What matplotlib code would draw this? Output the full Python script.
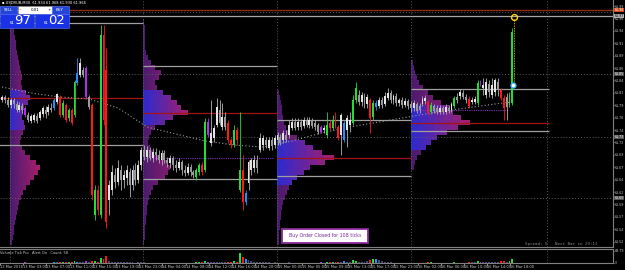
import numpy as np
import matplotlib
matplotlib.use("Agg")
import matplotlib.pyplot as plt
from matplotlib.colors import to_rgb
from matplotlib.patches import Rectangle

# ---- candle data (M30 bars, 13-16 Mar) ----
opens = [
    61.800, 61.806, 61.800, 61.790, 61.800, 61.792, 61.780, 61.788, 61.784, 61.770,
    61.758, 61.760, 61.768, 61.764, 61.772, 61.780, 61.776, 61.784, 61.784, 61.796,
    61.806, 61.770, 61.790, 61.764, 61.780, 61.770, 61.834, 61.850, 61.860, 61.864,
    61.806, 61.790, 61.570, 61.620, 61.570, 61.930, 61.860, 61.600, 61.620, 61.650,
    61.636, 61.660, 61.640, 61.644, 61.656, 61.630, 61.660, 61.640, 61.670, 61.700,
    61.686, 61.700, 61.684, 61.696, 61.690, 61.680, 61.694, 61.680, 61.674, 61.684,
    61.670, 61.664, 61.676, 61.660, 61.654, 61.666, 61.656, 61.646, 61.656, 61.670,
    61.660, 61.756, 61.714, 61.724, 61.750, 61.780, 61.746, 61.766, 61.754, 61.720,
    61.710, 61.740, 61.620, 61.660, 61.596, 61.634, 61.660, 61.664, 61.680, 61.700,
    61.710, 61.720, 61.704, 61.720, 61.710, 61.720, 61.726, 61.720, 61.730, 61.730,
    61.744, 61.756, 61.746, 61.756, 61.748, 61.760, 61.750, 61.760, 61.754, 61.750,
    61.746, 61.740, 61.730, 61.754, 61.744, 61.760, 61.746, 61.730, 61.754, 61.740,
    61.750, 61.754, 61.800, 61.810, 61.796, 61.808, 61.792, 61.800, 61.766, 61.794,
    61.788, 61.800, 61.792, 61.804, 61.814, 61.800, 61.808, 61.794, 61.800, 61.790,
    61.798, 61.792, 61.784, 61.792, 61.788, 61.792, 61.798, 61.796, 61.776, 61.788,
    61.784, 61.776, 61.784, 61.776, 61.784, 61.780, 61.788, 61.806, 61.808, 61.814,
    61.806, 61.802, 61.796, 61.796, 61.794, 61.834, 61.824, 61.810, 61.832, 61.810,
    61.816, 61.836, 61.820, 61.804, 61.806, 61.790, 61.794]
highs = [
    61.810, 61.810, 61.806, 61.804, 61.804, 61.798, 61.796, 61.794, 61.788, 61.776,
    61.772, 61.774, 61.774, 61.780, 61.788, 61.788, 61.792, 61.794, 61.804, 61.814,
    61.810, 61.800, 61.794, 61.784, 61.784, 61.840, 61.884, 61.884, 61.866, 61.868,
    61.810, 61.794, 61.630, 61.630, 61.950, 61.950, 61.904, 61.640, 61.670, 61.664,
    61.680, 61.670, 61.660, 61.670, 61.664, 61.670, 61.674, 61.680, 61.706, 61.710,
    61.708, 61.706, 61.704, 61.704, 61.700, 61.700, 61.700, 61.686, 61.690, 61.688,
    61.680, 61.684, 61.680, 61.670, 61.674, 61.672, 61.660, 61.664, 61.674, 61.676,
    61.764, 61.764, 61.800, 61.750, 61.804, 61.800, 61.794, 61.776, 61.760, 61.724,
    61.750, 61.746, 61.776, 61.690, 61.620, 61.680, 61.684, 61.690, 61.690, 61.734,
    61.730, 61.726, 61.726, 61.726, 61.730, 61.736, 61.732, 61.740, 61.740, 61.760,
    61.764, 61.764, 61.764, 61.762, 61.766, 61.766, 61.766, 61.764, 61.760, 61.754,
    61.750, 61.750, 61.776, 61.760, 61.770, 61.776, 61.750, 61.774, 61.760, 61.770,
    61.776, 61.810, 61.836, 61.820, 61.816, 61.814, 61.812, 61.804, 61.800, 61.800,
    61.806, 61.806, 61.816, 61.824, 61.820, 61.812, 61.814, 61.804, 61.806, 61.804,
    61.802, 61.798, 61.800, 61.796, 61.794, 61.808, 61.810, 61.800, 61.796, 61.792,
    61.790, 61.790, 61.788, 61.792, 61.790, 61.796, 61.808, 61.814, 61.822, 61.820,
    61.812, 61.808, 61.806, 61.808, 61.840, 61.840, 61.844, 61.844, 61.840, 61.844,
    61.844, 61.844, 61.824, 61.810, 61.814, 61.816, 61.944]
lows = [
    61.796, 61.794, 61.786, 61.784, 61.784, 61.776, 61.776, 61.774, 61.766, 61.756,
    61.754, 61.756, 61.754, 61.760, 61.766, 61.764, 61.770, 61.776, 61.780, 61.792,
    61.766, 61.766, 61.756, 61.758, 61.750, 61.766, 61.830, 61.846, 61.846, 61.802,
    61.782, 61.600, 61.560, 61.570, 61.564, 61.750, 61.544, 61.570, 61.610, 61.624,
    61.630, 61.620, 61.624, 61.630, 61.606, 61.620, 61.630, 61.634, 61.660, 61.680,
    61.676, 61.680, 61.676, 61.680, 61.674, 61.670, 61.674, 61.666, 61.664, 61.660,
    61.656, 61.660, 61.650, 61.648, 61.650, 61.648, 61.644, 61.640, 61.650, 61.650,
    61.656, 61.726, 61.708, 61.716, 61.746, 61.750, 61.740, 61.740, 61.714, 61.704,
    61.706, 61.710, 61.616, 61.580, 61.590, 61.620, 61.650, 61.656, 61.654, 61.696,
    61.700, 61.704, 61.700, 61.700, 61.704, 61.710, 61.710, 61.714, 61.716, 61.724,
    61.740, 61.740, 61.740, 61.740, 61.744, 61.746, 61.744, 61.744, 61.740, 61.732,
    61.734, 61.734, 61.724, 61.740, 61.740, 61.744, 61.720, 61.690, 61.716, 61.706,
    61.736, 61.750, 61.794, 61.790, 61.788, 61.784, 61.784, 61.734, 61.760, 61.780,
    61.784, 61.784, 61.788, 61.800, 61.794, 61.792, 61.788, 61.788, 61.784, 61.786,
    61.782, 61.776, 61.778, 61.774, 61.774, 61.788, 61.792, 61.770, 61.772, 61.774,
    61.772, 61.772, 61.772, 61.772, 61.774, 61.776, 61.784, 61.794, 61.802, 61.802,
    61.794, 61.784, 61.792, 61.792, 61.790, 61.828, 61.810, 61.804, 61.806, 61.804,
    61.808, 61.808, 61.800, 61.760, 61.760, 61.786, 61.790]
closes = [
    61.806, 61.800, 61.790, 61.800, 61.792, 61.780, 61.790, 61.780, 61.770, 61.760,
    61.768, 61.770, 61.758, 61.776, 61.784, 61.772, 61.786, 61.780, 61.800, 61.812,
    61.770, 61.794, 61.760, 61.780, 61.754, 61.836, 61.854, 61.874, 61.850, 61.806,
    61.786, 61.610, 61.620, 61.580, 61.930, 61.760, 61.556, 61.630, 61.656, 61.636,
    61.664, 61.640, 61.650, 61.660, 61.630, 61.660, 61.640, 61.670, 61.700, 61.686,
    61.700, 61.684, 61.696, 61.690, 61.680, 61.694, 61.680, 61.674, 61.684, 61.670,
    61.664, 61.676, 61.660, 61.654, 61.666, 61.656, 61.650, 61.660, 61.670, 61.656,
    61.756, 61.730, 61.734, 61.744, 61.786, 61.754, 61.766, 61.746, 61.720, 61.710,
    61.740, 61.720, 61.660, 61.596, 61.614, 61.676, 61.680, 61.680, 61.664, 61.724,
    61.724, 61.710, 61.720, 61.708, 61.724, 61.730, 61.714, 61.734, 61.720, 61.750,
    61.756, 61.744, 61.756, 61.746, 61.760, 61.750, 61.760, 61.748, 61.746, 61.736,
    61.736, 61.744, 61.750, 61.744, 61.760, 61.746, 61.724, 61.770, 61.720, 61.764,
    61.760, 61.800, 61.824, 61.796, 61.810, 61.792, 61.806, 61.764, 61.794, 61.786,
    61.800, 61.790, 61.808, 61.814, 61.800, 61.808, 61.794, 61.800, 61.790, 61.798,
    61.788, 61.784, 61.794, 61.778, 61.780, 61.802, 61.804, 61.774, 61.790, 61.778,
    61.776, 61.784, 61.776, 61.786, 61.778, 61.792, 61.804, 61.800, 61.816, 61.806,
    61.800, 61.788, 61.800, 61.802, 61.834, 61.832, 61.830, 61.836, 61.816, 61.830,
    61.840, 61.820, 61.804, 61.784, 61.786, 61.810, 61.936]
# volume-analysis colour of each bar ('.' = normal)
bar_codes = ("........p." "........b." "rgrgrgb..p" ".rgrgrr..." ".........."
             ".........." ".......ggr" "gp......rr" "grgrb....." ".........."
             ".........." "p.grgrr.b." ".gg....rgb" ".........." ".......rg."
             "......g..." ".r..gp...." "..rr.gg")
tick_volume = [
    2, 1, 1, 2, 1, 1, 2, 1, 3, 2,  1, 1, 2, 1, 1, 2, 1, 2, 4, 3,
    6, 5, 6, 5, 7, 10, 8, 4, 3, 9,  4, 14, 10, 8, 30, 24, 40, 9, 7, 5,
    4, 3, 3, 3, 4, 3, 2, 4, 5, 3,  2, 2, 2, 1, 2, 2, 1, 1, 2, 1,
    1, 1, 2, 1, 1, 2, 1, 4, 5, 5,  14, 6, 6, 5, 7, 4, 4, 3, 8, 6,
    9, 7, 55, 35, 25, 15, 10, 5, 4, 5,  4, 3, 3, 2, 3, 2, 2, 2, 2, 3,
    2, 2, 1, 2, 1, 1, 2, 1, 2, 2,  4, 2, 8, 6, 7, 6, 8, 5, 12, 6,
    5, 16, 14, 6, 5, 8, 10, 20, 22, 24,  15, 10, 8, 3, 3, 2, 2, 2, 1, 2,
    1, 1, 2, 1, 1, 2, 2, 5, 4, 2,  2, 1, 2, 1, 2, 1, 6, 2, 2, 2,
    2, 7, 3, 3, 14, 6, 4, 4, 3, 4,  3, 3, 10, 12, 5, 14, 22]

ma_bars = [0, 10, 20, 30, 40, 50, 60, 70, 80, 90, 100, 110, 120, 130, 140, 150, 160, 170, 176]
ma_values = [61.826, 61.814, 61.806, 61.802, 61.784, 61.746, 61.732, 61.718, 61.710, 61.706,
             61.718, 61.734, 61.746, 61.756, 61.766, 61.776, 61.784, 61.792, 61.796]

day_starts = [2.75, 48.6, 94.8, 141.0, 188.0]

# market profiles, one per day: top price, widths per 0.01 bin, value area
prof_tops = [61.960, 61.960, 61.820, 61.880]
prof_widths = [
    [3, 4, 4, 5, 6, 6, 7, 8, 9, 10, 11, 12, 11, 12, 16, 20, 18, 14, 13, 12, 14, 15, 13,
     11, 10, 12, 15, 20, 26, 30, 28, 24, 20, 16, 13, 11, 9, 8, 7, 6, 5, 4, 4, 3, 2],
    [1, 2, 2, 2, 2, 2, 3, 5, 8, 12, 18, 16, 12, 14, 20, 28, 34, 38, 45, 30, 22, 12, 8, 6,
     5, 7, 10, 16, 24, 27, 25, 22, 15, 10, 8, 6, 5, 4, 4, 3, 3, 2, 2, 2, 1],
    [2, 3, 4, 5, 5, 6, 7, 9, 13, 20, 28, 36, 45, 57, 48, 33, 27, 20, 15, 12, 10, 8, 6,
     5, 4, 4, 3, 3, 2, 2, 2],
    [2, 3, 4, 6, 8, 12, 17, 22, 30, 38, 42, 50, 59, 47, 36, 26, 20, 15, 10, 6, 4, 3]]
prof_va = [(61.820, 61.740), (61.820, 61.750), (61.720, 61.630), (61.790, 61.700)]

# daily levels: (from, to, price, kind)
levels = [
    (-1, 48.6, 61.954, "gray"), (-1, 48.6, 61.804, "red"), (-1, 48.6, 61.710, "gray"),
    (48.6, 94.8, 61.868, "gray"), (48.6, 94.8, 61.774, "red"), (48.6, 93.5, 61.684, "pdot"),
    (48.6, 94.8, 61.642, "gray"),
    (94.8, 141.0, 61.760, "gray"), (94.8, 141.0, 61.684, "red"), (94.8, 141.0, 61.648, "gray"),
    (141.0, 188.5, 61.822, "gray"), (141.0, 188.5, 61.754, "red"), (141.0, 188.5, 61.738, "gray"),
    (141.0, 175.0, 61.780, "pdot")]
week_red = 61.980
week_gray = 61.968
hlines_dotted = [61.976, 61.852, 61.726, 61.604]

entry_price, exit_price = 61.830, 61.966

time_labels = ["12 Mar 2018", "13 Mar 03:00", "13 Mar 07:00", "13 Mar 11:00", "13 Mar 15:00",
               "13 Mar 19:00", "13 Mar 23:00", "14 Mar 04:00", "14 Mar 08:00", "14 Mar 12:00",
               "14 Mar 16:00", "14 Mar 20:00", "15 Mar 00:00", "15 Mar 05:00", "15 Mar 09:00",
               "15 Mar 13:00", "15 Mar 17:00", "15 Mar 21:00", "16 Mar 02:00", "16 Mar 06:00",
               "16 Mar 10:00", "16 Mar 14:00", "16 Mar 18:00"]
time_label_bars = [-0.6] + [8 * k - 0.7 for k in range(1, 23)]

W, H = 625, 270
def fx(px): return px / W
def fy(py): return 1 - py / H

code_col = {"g": "#22dd33", "r": "#ff1818", "b": "#1e90ff", "p": "#b030e8"}
BG = "black"
small = 2.6
axfs = 2.35

fig = plt.figure(figsize=(W / 100, H / 100), dpi=100, facecolor=BG)
ax = fig.add_axes([0, fy(247), fx(613), 247 / H], facecolor=BG)
ax2 = fig.add_axes([0, fy(263), fx(613), 14 / H], facecolor=BG)
xlim = (-0.69, 210.69)

# --- profiles ---
def mix(a, b, t):
    a, b = np.array(to_rgb(a)), np.array(to_rgb(b))
    return tuple(a + (b - a) * min(max(t, 0), 1))

for start, top, widths, (vhi, vlo) in zip(day_starts, prof_tops, prof_widths, prof_va):
    maxw = max(widths)
    lefts, ws, ys, cols = [], [], [], []
    for j, w in enumerate(widths):
        p = top - 0.01 * j - 0.005
        cl = "#2a2ad0" if vlo <= p <= vhi else "#4a1a70"
        wb = w / 2.9
        n = 6
        for s in range(n):
            lefts.append(start + wb * s / n)
            ws.append(wb / n + 0.02)
            ys.append(p)
            cols.append(mix(cl, "#a81e6a", (s + 0.5) / n * w / maxw))
    ax.barh(ys, ws, height=0.0101, left=lefts, color=cols, linewidth=0, zorder=1)

# --- grid / separators ---
for d in day_starts:
    ax.axvline(d, color="#5c5c5c", lw=0.7, ls=(0, (1, 2)), zorder=1.5)
    ax2.axvline(d, color="#5c5c5c", lw=0.7, ls=(0, (1, 2)))
for p in hlines_dotted:
    ax.axhline(p, color="#5c5c5c", lw=0.7, ls=(0, (1, 2)), zorder=1.5)
ax.axhline(week_red, color="#8c2a14", lw=1.0, zorder=2)
ax.axhline(week_gray, color="#a8a8a8", lw=0.9, zorder=2)

lv_style = {"gray": dict(colors="#a0a0a0", lw=0.9),
            "red": dict(colors="#a01414", lw=0.9),
            "pdot": dict(colors="#8030b0", lw=0.8, linestyles=(0, (1, 1)))}
for x0, x1, p, kind in levels:
    ax.hlines(p, x0, x1, zorder=2, **lv_style[kind])

ax.plot(ma_bars, ma_values, color="#9a9a9a", lw=0.8, ls=(0, (1, 2)), zorder=2.5)

# --- candles ---
idx = np.arange(len(opens))
o, h, l, c = map(np.array, (opens, highs, lows, closes))
cols = []
for i in idx:
    code = bar_codes[i]
    if code in code_col:
        cols.append(code_col[code])
    else:
        cols.append("#e4e4e4" if c[i] >= o[i] else "#9a9a9a")
ax.vlines(idx, l, h, colors=[cc if bar_codes[i] in code_col else "#b0b0b0" for i, cc in enumerate(cols)],
          lw=0.6, zorder=3)
body = np.maximum(np.abs(c - o), 0.0016)
ax.bar(idx, body, bottom=np.minimum(o, c), width=0.66, color=cols, linewidth=0, zorder=3.2)

# --- order markers ---
ax.vlines(176.6, entry_price, exit_price - 0.004, colors="#ffd400", lw=0.6, ls=(0, (1, 1)), zorder=3)
ax.bar(176, body[-1], bottom=min(o[-1], c[-1]), width=0.66, color=cols[-1], linewidth=0, zorder=3.3)
ax.plot(176.6, exit_price, "o", ms=4.2, mfc="none", mec="#ffd400", mew=1.0, zorder=4)
ax.plot(176.3, entry_price, "o", ms=3.6, mfc="white", mec="#30b0ff", mew=0.9, zorder=4)

# --- price axis ---
ax.set_xlim(*xlim)
ax.set_ylim(61.506, 62.000)
ticks = 61.988 - 0.0248 * np.arange(20)
ax.yaxis.tick_right()
ax.set_yticks(ticks)
ax.set_yticklabels([f"{t:.2f}" for t in ticks])
ax.tick_params(axis="y", colors="#c8c8c8", labelsize=axfs, length=1.0, width=0.5, pad=0.4)
ax.tick_params(axis="x", bottom=False, labelbottom=False)
for s in ("top", "left"):
    ax.spines[s].set_visible(False)
for s in ("right", "bottom"):
    ax.spines[s].set_color("#808080")
    ax.spines[s].set_linewidth(0.8)

ytr = ax.get_yaxis_transform()
def price_tag(p, fc, tc):
    ax.text(1.0022, p, f"{p:.2f}", transform=ytr, fontsize=axfs, color=tc, va="center", ha="left",
            bbox=dict(boxstyle="square,pad=0.1", fc=fc, ec="none"), clip_on=False, zorder=6)
for p in hlines_dotted[1:]:
    price_tag(p, "#505050", "white")
price_tag(week_red, "#d04818", "white")
price_tag(week_gray, "#b0b0b0", "black")

# --- volume panel ---
vcols = [code_col.get(bar_codes[i], "#44447a") for i in idx]
ax2.bar(idx, tick_volume, width=0.66, color=vcols, linewidth=0)
ax2.set_xlim(*xlim)
ax2.set_ylim(0, 80)
ax2.yaxis.tick_right()
ax2.set_yticks([0, 69.79])
ax2.set_yticklabels(["0", "69.79"])
ax2.tick_params(axis="y", colors="#c8c8c8", labelsize=axfs, length=1.0, width=0.5, pad=0.4)
ax2.set_xticks(time_label_bars)
ax2.set_xticklabels(time_labels)
ax2.tick_params(axis="x", colors="#c8c8c8", labelsize=small, length=1.2, width=0.5, pad=0.5)
for t in ax2.get_xticklabels():
    t.set_ha("left")
ax2.spines["left"].set_visible(False)
for s in ("right", "bottom", "top"):
    ax2.spines[s].set_color("#808080")
    ax2.spines[s].set_linewidth(0.8)
fig.text(fx(0.5), fy(252.5), "Volume Tick Pro   Alert On   Count: 58", fontsize=small,
         color="#c8c8c8", va="center", ha="left")

# --- overlays: trade panel, notices ---
def rect(x, y, w, h, fc, ec="none", lw=0.0, z=10):
    fig.add_artist(Rectangle((fx(x), fy(y + h)), w / W, h / H, transform=fig.transFigure,
                             fc=fc, ec=ec, lw=lw, zorder=z))

fig.text(fx(2), fy(2.5), "\u25aa USDRUB,M30  61.934 61.968 61.930 61.966", fontsize=2.6,
         color="white", va="center", ha="left", zorder=11)
rect(0, 6, 17, 7.5, "#2446d8", "#6f86ff", 0.4)
rect(17.5, 6, 34, 7.5, "white", "#909090", 0.4)
rect(52, 6, 16.5, 7.5, "#2446d8", "#6f86ff", 0.4)
fig.text(fx(8.5), fy(9.8), "SELL", fontsize=2.8, color="white", ha="center", va="center", zorder=11)
fig.text(fx(60), fy(9.8), "BUY", fontsize=2.8, color="white", ha="center", va="center", zorder=11)
fig.text(fx(35), fy(9.8), "0.01", fontsize=2.8, color="black", ha="center", va="center", zorder=11)
fig.text(fx(20), fy(9.8), "-", fontsize=2.8, color="black", ha="center", va="center", zorder=11)
fig.text(fx(49), fy(9.8), "+", fontsize=2.8, color="black", ha="center", va="center", zorder=11)
rect(0, 14, 34, 13.5, "#1a32e6", "#5a74ff", 0.4)
rect(35, 14, 33.5, 13.5, "#1a32e6", "#5a74ff", 0.4)
fig.text(fx(10), fy(23), "61", fontsize=2.8, color="white", ha="left", va="center", zorder=11)
fig.text(fx(14.5), fy(20.8), "97", fontsize=9.5, color="white", ha="left", va="center", zorder=11)
fig.text(fx(44), fy(23), "61", fontsize=2.8, color="white", ha="left", va="center", zorder=11)
fig.text(fx(48.5), fy(20.8), "02", fontsize=9.5, color="white", ha="left", va="center", zorder=11)

rect(282, 229, 86, 14, "white", "#8a2a9a", 1.3)
fig.text(fx(325), fy(236), "Buy Order Closed for 108 ticks", fontsize=3.4, color="#7a2a9a",
         ha="center", va="center", zorder=11)
fig.text(fx(525), fy(244.5), "Spread: 5   Next Bar in 29:11", fontsize=3.0, color="#8a8a8a",
         family="DejaVu Sans Mono", ha="left", va="center", zorder=11)

fig.savefig("out.png", dpi=100, facecolor=BG)
